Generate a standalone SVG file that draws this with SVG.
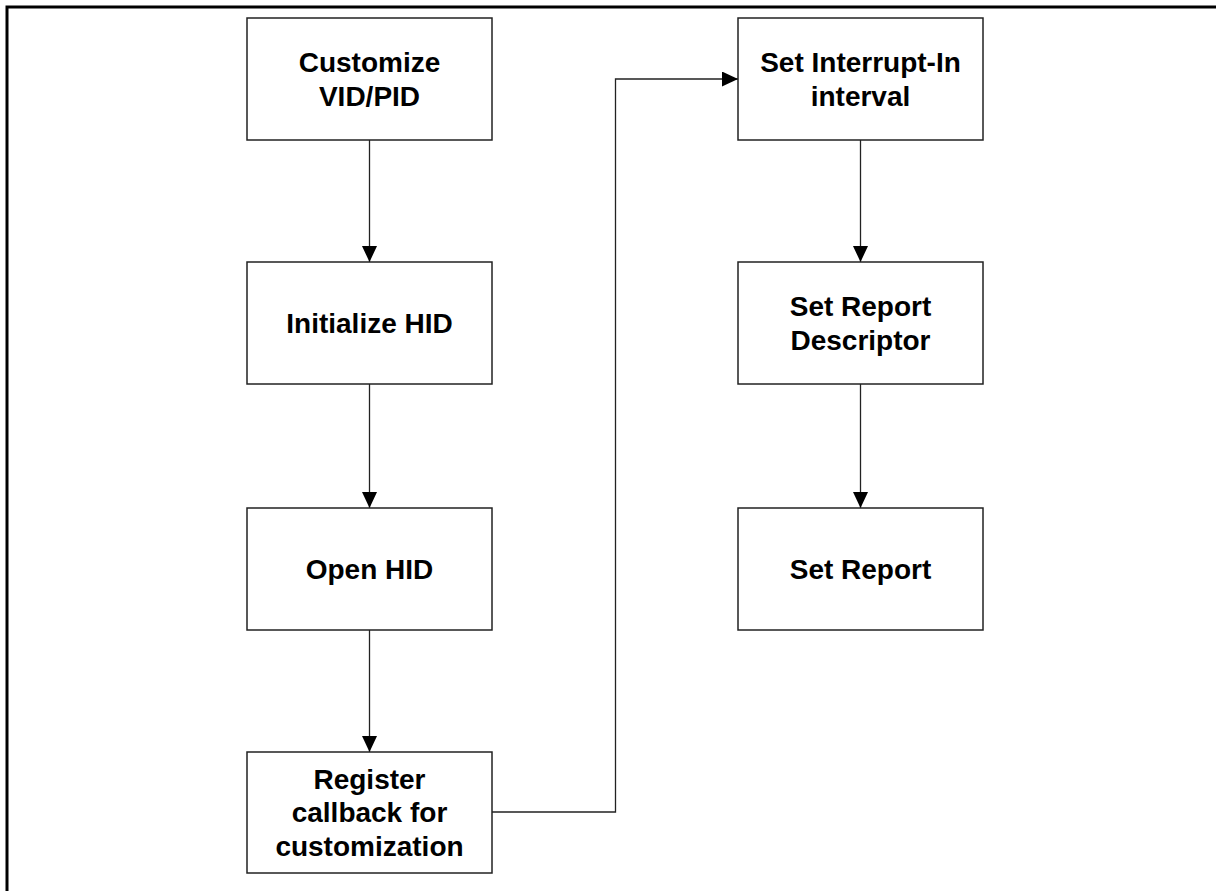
<svg xmlns="http://www.w3.org/2000/svg" width="1216" height="891" viewBox="0 0 1216 891">
<defs>
<style>
.box{fill:#fff;stroke:#222;stroke-width:1.5}
.lbl{font-family:"Liberation Sans",Arial,sans-serif;font-weight:bold;font-size:28px;fill:#000;text-anchor:middle}
.con{fill:none;stroke:#222;stroke-width:1.3}
</style>
<marker id="arr" viewBox="0 0 16 15" refX="16" refY="7.5" markerWidth="16" markerHeight="15" markerUnits="userSpaceOnUse" orient="auto">
<path d="M0,0 L16,7.5 L0,15 Z" fill="#000"/>
</marker>
</defs>
<rect width="1216" height="891" fill="#fff"/>
<path d="M7,891 V7 H1216" fill="none" stroke="#000" stroke-width="3"/>
<g id="connectors">
<path class="con" d="M369.5,140 V262" marker-end="url(#arr)"/>
<path class="con" d="M369.5,384 V508" marker-end="url(#arr)"/>
<path class="con" d="M369.5,630 V752" marker-end="url(#arr)"/>
<path class="con" d="M492,812 H615.5 V79 H738" marker-end="url(#arr)"/>
<path class="con" d="M860.5,140 V262" marker-end="url(#arr)"/>
<path class="con" d="M860.5,384 V508" marker-end="url(#arr)"/>
</g>
<g id="n1"><rect class="box" x="247" y="18" width="245" height="122"/><text class="lbl" x="369.5" y="72.3">Customize</text><text class="lbl" x="369.5" y="105.7">VID/PID</text></g>
<g id="n2"><rect class="box" x="247" y="262" width="245" height="122"/><text class="lbl" x="369.5" y="333">Initialize HID</text></g>
<g id="n3"><rect class="box" x="247" y="508" width="245" height="122"/><text class="lbl" x="369.5" y="579">Open HID</text></g>
<g id="n4"><rect class="box" x="247" y="752" width="245" height="121"/><text class="lbl" x="369.5" y="788.5">Register</text><text class="lbl" x="369.5" y="822">callback for</text><text class="lbl" x="369.5" y="856">customization</text></g>
<g id="n5"><rect class="box" x="738" y="18" width="245" height="122"/><text class="lbl" x="860.5" y="72.3">Set Interrupt-In</text><text class="lbl" x="860.5" y="105.7">interval</text></g>
<g id="n6"><rect class="box" x="738" y="262" width="245" height="122"/><text class="lbl" x="860.5" y="316.3">Set Report</text><text class="lbl" x="860.5" y="349.7">Descriptor</text></g>
<g id="n7"><rect class="box" x="738" y="508" width="245" height="122"/><text class="lbl" x="860.5" y="579">Set Report</text></g>
</svg>
